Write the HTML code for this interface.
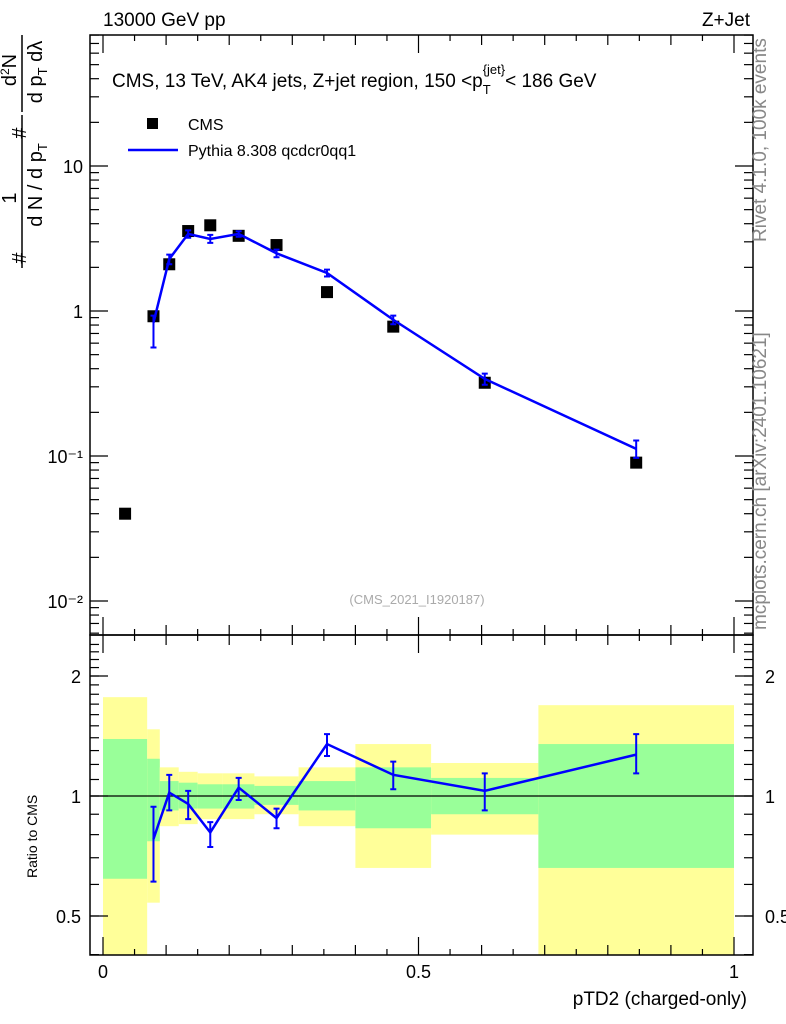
<!DOCTYPE html>
<html><head><meta charset="utf-8"><style>
body{margin:0;background:#fff}
svg{display:block;font-family:"Liberation Sans",sans-serif}
</style></head><body>
<svg id="c" width="786" height="1024" viewBox="0 0 786 1024" xmlns="http://www.w3.org/2000/svg">
<g id="bands"></g>
<g id="marks"></g>
<g id="axes"></g>
<text x="103" y="26" font-size="19">13000 GeV pp</text>
<text x="750" y="26" font-size="19" text-anchor="end">Z+Jet</text>
<text x="112" y="87" font-size="19">CMS, 13 TeV, AK4 jets, Z+jet region, 150 &lt;p<tspan font-size="13" dy="7">T</tspan><tspan font-size="13" dx="-8" dy="-20">{jet}</tspan><tspan dy="13">&lt; 186 GeV</tspan></text>
<rect x="147" y="118" width="11" height="11" fill="#000"/>
<text x="188" y="130" font-size="16">CMS</text>
<line x1="128" y1="150" x2="178" y2="150" stroke="#0000ff" stroke-width="2.5"/>
<text x="188" y="156" font-size="16">Pythia 8.308 qcdcr0qq1</text>
<text x="417" y="604" font-size="13" fill="#aaa" text-anchor="middle">(CMS_2021_I1920187)</text>
<text transform="translate(766,242) rotate(-90)" font-size="19" fill="#888">Rivet 4.1.0,  100k events</text>
<text transform="translate(766,630) rotate(-90)" font-size="19" fill="#888">mcplots.cern.ch [arXiv:2401.10621]</text>
<text transform="translate(37,878) rotate(-90)" font-size="14">Ratio to CMS</text>
<text x="747" y="1005" font-size="19" text-anchor="end">pTD2 (charged-only)</text>
<g font-size="20">
<text transform="translate(26,258) rotate(-90)" text-anchor="middle">#</text>
<text transform="translate(16,198) rotate(-90)" text-anchor="middle">1</text>
<line x1="22" y1="268" x2="22" y2="115" stroke="#000" stroke-width="1.5"/>
<text transform="translate(42,185) rotate(-90)" text-anchor="middle">d N / d p<tspan font-size="13" dy="5">T</tspan></text>
<text transform="translate(26,133) rotate(-90)" text-anchor="middle">#</text>
<text transform="translate(16,70) rotate(-90)" text-anchor="middle">d<tspan font-size="12" dy="-7">2</tspan><tspan dy="7">N</tspan></text>
<line x1="22" y1="112" x2="22" y2="35" stroke="#000" stroke-width="1.5"/>
<text transform="translate(42,72) rotate(-90)" text-anchor="middle">d p<tspan font-size="13" dy="5">T</tspan><tspan dy="-5"> dλ</tspan></text>
</g>
</svg>
<script>
const binEdges=[0,0.07,0.09,0.12,0.15,0.19,0.24,0.31,0.40,0.52,0.69,1.0];
const cmsX=[0.035,0.08,0.105,0.135,0.17,0.215,0.275,0.355,0.46,0.605,0.845];
const cmsY=[0.040,0.92,2.1,3.56,3.9,3.3,2.85,1.35,0.78,0.32,0.09];
const mcX=[0.08,0.105,0.135,0.17,0.215,0.275,0.355,0.46,0.605,0.845];
const mcY=[0.83,2.28,3.4,3.14,3.4,2.5,1.83,0.87,0.34,0.112];
const mcLo=[0.56,2.1,3.2,2.95,3.25,2.35,1.73,0.81,0.31,0.097];
const mcHi=[0.93,2.45,3.6,3.35,3.55,2.65,1.93,0.93,0.37,0.128];
const ratioY=[0.78,1.02,0.955,0.81,1.05,0.88,1.35,1.13,1.03,1.27];
const ratioLo=[0.61,0.92,0.875,0.745,0.977,0.83,1.26,1.04,0.92,1.14];
const ratioHi=[0.94,1.13,1.03,0.86,1.11,0.93,1.43,1.22,1.14,1.43];
const yelLo=[0.3,0.54,0.84,0.85,0.875,0.875,0.9,0.84,0.66,0.8,0.3];
const yelHi=[1.77,1.47,1.18,1.15,1.14,1.14,1.12,1.18,1.35,1.21,1.69];
const grnLo=[0.62,0.77,0.92,0.93,0.93,0.93,0.95,0.92,0.83,0.9,0.66];
const grnHi=[1.39,1.24,1.09,1.08,1.07,1.07,1.06,1.09,1.18,1.11,1.35];
const mainTicks=[0.01,0.1,1,10];
const mainTickLabels=["10\u207B\u00B2","10\u207B\u00B9","1","10"];
const ratioTicks=[0.5,1,2];
const ratioTickLabels=["0.5","1","2"];
const xTicks=[0,0.5,1];
const xTickLabels=["0","0.5","1"];

const L=90,R=753,T=35,M=635,B=955;
const X=v=>103+631*v;
const Ym=v=>311-145*Math.log10(v);
const Yr=v=>796-398.6*Math.log10(v);
const NS="http://www.w3.org/2000/svg";
function mk(parent,tag,attrs){const e=document.createElementNS(NS,tag);for(const k in attrs)e.setAttribute(k,attrs[k]);document.getElementById(parent).appendChild(e);return e;}
const cl=(v,a,b)=>Math.max(a,Math.min(b,v));

for(let i=0;i<binEdges.length-1;i++){
  const x1=X(binEdges[i]),x2=X(binEdges[i+1]);
  const y1=cl(Yr(yelHi[i]),M,B),y2=cl(Yr(yelLo[i]),M,B);
  const r=mk('bands','rect',{x:x1,y:y1,width:x2-x1,height:y2-y1,fill:'#ffff99'});
  
  
  const g1=cl(Yr(grnHi[i]),M,B),g2=cl(Yr(grnLo[i]),M,B);
  const g=mk('bands','rect',{x:x1,y:g1,width:x2-x1,height:g2-g1,fill:'#99ff99'});
  
  
}
let l1=mk('marks','line',{x1:L,x2:R,y1:Yr(1),y2:Yr(1),stroke:'#000','stroke-width':1.3});



for(let i=0;i<cmsX.length;i++){
  const s=mk('marks','rect',{x:X(cmsX[i])-6,y:Ym(cmsY[i])-6,width:12,height:12,fill:'#000'});
  
  
}
function series(ys,yf,name){
  const p=mk('marks','polyline',{points:mcX.map((x,i)=>X(x)+','+yf(ys[i])).join(' '),fill:'none',stroke:'#0000ff','stroke-width':2.5});
  
  
}
function errs(lo,hi,yf,name){
  for(let i=0;i<mcX.length;i++){
    const x=X(mcX[i]),a=yf(lo[i]),b=yf(hi[i]);
    const e=mk('marks','path',{d:`M${x},${a}V${b}M${x-3},${a}h6M${x-3},${b}h6`,stroke:'#0000ff','stroke-width':2,fill:'none'});
    
    
  }
}
series(mcY,Ym,'pythia-line');
errs(mcLo,mcHi,Ym,'pythia-error-bar');
series(ratioY,Yr,'ratio-pythia-line');
errs(ratioLo,ratioHi,Yr,'ratio-error-bar');

[[T,M],[M,B]].forEach(([a,b],k)=>{
  const f=mk('axes','rect',{x:L,y:a,width:R-L,height:b-a,fill:'none',stroke:'#000','stroke-width':1.5});
  
  
});
function tick(x1,y1,x2,y2,name){const t=mk('axes','line',{x1,y1,x2,y2,stroke:'#000','stroke-width':1.2});}
function label(x,y,txt,anchor,size,name){const t=mk('axes','text',{x,y,'text-anchor':anchor,'font-size':size});t.textContent=txt;}
for(let d=-3;d<=1;d++)for(let m=1;m<10;m++){
  const v=m*Math.pow(10,d),y=Ym(v);if(y<T||y>M)continue;
  const len=m==1?18:9;
  tick(L,y,L+len,y,'main-y-tick');tick(R,y,R-len,y,'main-y-tick');
}
mainTicks.forEach((v,i)=>label(L-7,Ym(v)+7,mainTickLabels[i],'end',18,'main-y-tick-label'));
for(let v=0.4;v<=2.5;v+=0.1){
  const y=Yr(v);if(y<M||y>B)continue;
  tick(L,y,L+9,y,'ratio-y-tick');tick(R,y,R-9,y,'ratio-y-tick');
}
ratioTicks.forEach((v,i)=>{const y=Yr(v);tick(L,y,L+18,y,'ratio-y-major-tick');tick(R,y,R-18,y,'ratio-y-major-tick');
  label(L-9,y+7,ratioTickLabels[i],'end',18,'ratio-y-tick-label');label(R+12,y+7,ratioTickLabels[i],'start',18,'ratio-y-tick-label-right');});
for(let k=0;k<=20;k++){
  const v=k*0.05,x=X(v);const len=k%10==0?18:(k%2==0?10:6);
  tick(x,B,x,B-len,'x-tick');tick(x,M,x,M-len,'x-tick');tick(x,M,x,M+len,'x-tick');tick(x,T,x,T+len,'x-tick');
}
xTicks.forEach((v,i)=>label(X(v),978,xTickLabels[i],'middle',18,'x-tick-label'));
</script>
</body></html>
